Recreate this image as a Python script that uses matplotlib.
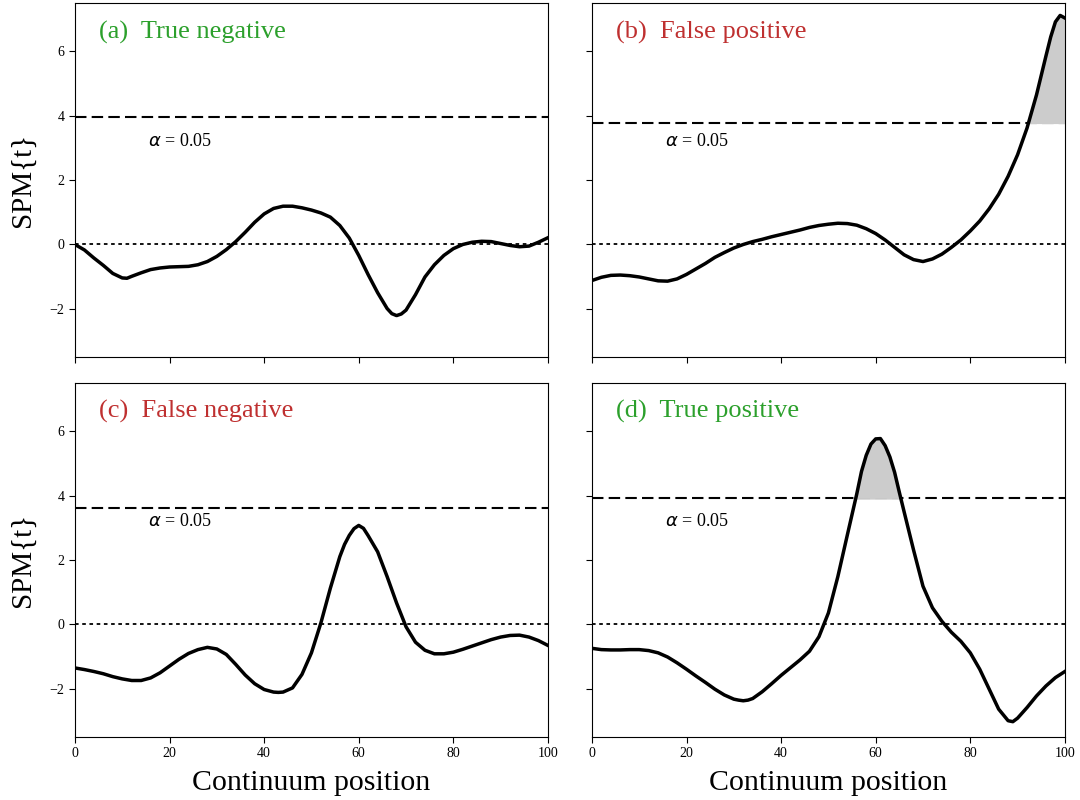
import matplotlib
matplotlib.use("Agg")
import matplotlib.pyplot as plt
import numpy as np

plt.rcParams['font.family'] = ['Liberation Serif', 'DejaVu Serif']
plt.rcParams['mathtext.fontset'] = 'dejavusans'

# (a) true negative
x_a = [0, 2, 4, 6, 8, 10, 11, 12, 14, 16, 18, 20, 22, 24, 26, 28, 30, 32, 34, 36, 38,
       40, 42, 44, 46, 48, 50, 52, 54, 56, 58, 60, 62, 64, 66, 67, 68, 69, 70, 72,
       74, 76, 78, 80, 82, 84, 86, 88, 90, 92, 94, 96, 98, 100]
y_a = [0.0, -0.17, -0.42, -0.65, -0.9, -1.04, -1.05, -0.99, -0.88, -0.78, -0.73,
       -0.70, -0.69, -0.68, -0.63, -0.53, -0.37, -0.16, 0.09, 0.38, 0.69,
       0.95, 1.12, 1.19, 1.19, 1.14, 1.07, 0.98, 0.85, 0.59, 0.2,
       -0.34, -0.94, -1.5, -1.99, -2.15, -2.21, -2.16, -2.04, -1.56,
       -1.01, -0.63, -0.34, -0.13, 0.0, 0.07, 0.1, 0.09, 0.03, -0.03, -0.07, -0.05, 0.07, 0.21]

# (b) false positive
x_b = [0, 2, 4, 6, 8, 10, 12, 14, 16, 18, 20, 22, 24, 26, 28, 30, 32, 34, 36, 38,
       40, 42, 44, 46, 48, 50, 52, 54, 56, 58, 60, 62, 64, 66, 68, 70, 72, 74, 76, 78,
       80, 82, 84, 86, 88, 90, 92, 94, 96, 97, 98, 99, 100]
y_b = [-1.12, -1.02, -0.96, -0.95, -0.97, -1.01, -1.07, -1.13, -1.14, -1.07,
       -0.93, -0.76, -0.59, -0.40, -0.25, -0.11, 0.0, 0.09, 0.16, 0.24,
       0.31, 0.38, 0.45, 0.53, 0.59, 0.63, 0.66, 0.65, 0.6, 0.49,
       0.34, 0.14, -0.09, -0.32, -0.47, -0.53, -0.45, -0.30, -0.09, 0.14,
       0.42, 0.73, 1.11, 1.56, 2.12, 2.79, 3.62, 4.65, 5.86, 6.45, 6.92, 7.12, 7.04]

# (c) false negative
x_c = [0, 2, 4, 6, 8, 10, 12, 14, 16, 18, 20, 22, 24, 26, 28, 30, 32, 34, 36, 38,
       40, 42, 43, 44, 46, 48, 50, 52, 54, 56, 57, 58, 59, 60, 61, 62, 64, 66, 68, 70, 72,
       74, 76, 78, 80, 82, 84, 86, 88, 90, 92, 94, 96, 98, 100]
y_c = [-1.36, -1.41, -1.47, -1.54, -1.63, -1.70, -1.75, -1.75, -1.67, -1.51,
       -1.30, -1.09, -0.91, -0.79, -0.72, -0.77, -0.94, -1.25, -1.58, -1.85,
       -2.03, -2.11, -2.12, -2.11, -1.98, -1.56, -0.89, 0.04, 1.12, 2.1, 2.48, 2.76,
       2.97, 3.07, 2.98, 2.75, 2.25, 1.48, 0.66, -0.08, -0.56,
       -0.81, -0.92, -0.92, -0.87, -0.78, -0.68, -0.58, -0.48, -0.40, -0.35,
       -0.34, -0.40, -0.51, -0.66]

# (d) true positive
x_d = [0, 2, 4, 6, 8, 10, 12, 14, 16, 18, 20, 22, 24, 26, 28, 30, 31, 32, 33, 34, 36, 38,
       40, 42, 44, 46, 48, 50, 52, 54, 56, 57, 58, 59, 60, 61, 62, 63, 64, 65, 66, 68,
       70, 72, 74, 76, 78, 80, 82, 84, 86, 88, 89, 90, 92, 94, 96, 98, 100]
y_d = [-0.75, -0.79, -0.80, -0.80, -0.79, -0.79, -0.82, -0.89, -1.02, -1.20,
       -1.40, -1.61, -1.81, -2.02, -2.20, -2.33, -2.36, -2.38, -2.36, -2.31, -2.10, -1.85,
       -1.59, -1.35, -1.11, -0.84, -0.39, 0.35, 1.48, 2.77, 4.05, 4.75, 5.25, 5.6,
       5.76, 5.77, 5.55, 5.2, 4.72, 4.1, 3.5, 2.31,
       1.18, 0.51, 0.09, -0.25, -0.53, -0.89, -1.40, -2.02, -2.64, -3.00, -3.03, -2.92,
       -2.59, -2.23, -1.92, -1.66, -1.47]

thresholds = [3.96, 3.78, 3.60, 3.91]
titles = ['(a)  True negative', '(b)  False positive', '(c)  False negative', '(d)  True positive']
title_colors = ['#2ca02c', '#bf3030', '#bf3030', '#2ca02c']
curves = [(x_a, y_a), (x_b, y_b), (x_c, y_c), (x_d, y_d)]


def drawPanel(ax, x, y, thresh, title, color):
    x = np.array(x)
    y = np.array(y)
    ax.plot(x, y, color='k', lw=2.5, zorder=3, solid_joinstyle='round')
    ax.axhline(0, color='k', lw=1.3, ls=(0, (2, 2)))
    ax.axhline(thresh, color='k', lw=1.5, ls=(0, (5.5, 2.5)))
    ax.fill_between(x, thresh, y, where=y > thresh, interpolate=True,
                    color='0.8', zorder=2)
    ax.text(15.4, 3.2, r'$\alpha$ = 0.05', fontsize=13, va='center')
    ax.text(5, 6.6, title, color=color, fontsize=19, va='center')


fig, axs = plt.subplots(2, 2, figsize=(10.8, 8), dpi=100, sharex=True, sharey=True)
fig.subplots_adjust(left=0.0694, right=0.986, top=0.996, bottom=0.079,
                    wspace=0.093, hspace=0.073)

for ax, (x, y), th, t, c in zip(axs.flat, curves, thresholds, titles, title_colors):
    drawPanel(ax, x, y, th, t, c)
    ax.set_xlim(0, 100)
    ax.set_ylim(-3.5, 7.5)
    ax.set_xticks([0, 20, 40, 60, 80, 100])
    ax.set_yticks([-2, 0, 2, 4, 6])
    ax.tick_params(labelsize=10, length=4)

for ax in axs[:, 0]:
    ax.set_ylabel('SPM{t}', fontsize=21, labelpad=10)
for ax in axs[1, :]:
    ax.set_xlabel('Continuum position', fontsize=21.5, labelpad=7)

plt.savefig('out.png')
